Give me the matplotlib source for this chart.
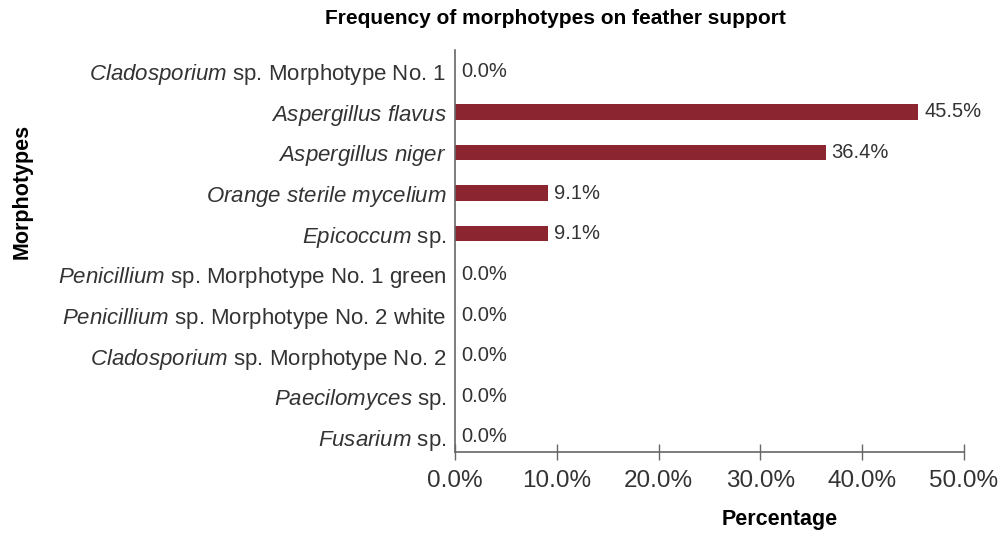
import matplotlib
matplotlib.use("Agg")
import matplotlib.pyplot as plt

plt.rcParams["font.family"] = ["Liberation Sans", "DejaVu Sans"]
plt.rcParams["mathtext.fontset"] = "custom"
plt.rcParams["mathtext.rm"] = "Liberation Sans"
plt.rcParams["mathtext.it"] = "Liberation Sans:italic"

# categories, top to bottom
categories = [
    r"$\mathit{Cladosporium}$ sp. Morphotype No. 1",
    r"$\mathit{Aspergillus\ flavus}$",
    r"$\mathit{Aspergillus\ niger}$",
    r"$\mathit{Orange\ sterile\ mycelium}$",
    r"$\mathit{Epicoccum}$ sp.",
    r"$\mathit{Penicillium}$ sp. Morphotype No. 1 green",
    r"$\mathit{Penicillium}$ sp. Morphotype No. 2 white",
    r"$\mathit{Cladosporium}$ sp. Morphotype No. 2",
    r"$\mathit{Paecilomyces}$ sp.",
    r"$\mathit{Fusarium}$ sp.",
]
values = [0.0, 45.5, 36.4, 9.1, 9.1, 0.0, 0.0, 0.0, 0.0, 0.0]
xticks = [0, 10, 20, 30, 40, 50]

bar_color = "#8b2630"
axis_color = "#666666"
text_color = "#333333"

fig = plt.figure(figsize=(10.08, 5.34), dpi=100)
ax = fig.add_axes([455 / 1008, 82 / 534, 509 / 1008, 402 / 534])

pos = list(range(len(categories)))
ax.barh(pos, values, height=0.38, color=bar_color)
for p, v in zip(pos, values):
    ax.text(v + 0.6, p, "%.1f%%" % v, va="center", ha="left",
            fontsize=14.5, color=text_color)

ax.set_ylim(len(categories) - 1 + 0.37, -0.52)
ax.set_xlim(0, 50)
ax.set_yticks(pos)
ax.set_yticklabels(categories, fontsize=16, color=text_color)
ax.set_xticks(xticks)
ax.set_xticklabels(["%.1f%%" % t for t in xticks], fontsize=17.5, color=text_color)
ax.tick_params(axis="y", length=0, pad=6)
ax.tick_params(axis="x", direction="inout", length=12, width=1, color=axis_color, pad=7)

for s in ["top", "right"]:
    ax.spines[s].set_visible(False)
for s in ["left", "bottom"]:
    ax.spines[s].set_color(axis_color)
    ax.spines[s].set_linewidth(1.2)

fig.text(555 / 1008, 1 - 19 / 534, "Frequency of morphotypes on feather support",
         ha="center", va="center", fontsize=15, fontweight="bold", color="black")
fig.text(780 / 1008, 1 - 520 / 534, "Percentage", ha="center", va="center",
         fontsize=15.5, fontweight="bold", color="black")
fig.text(22 / 1008, 1 - 191 / 534, "Morphotypes", ha="center", va="center",
         rotation=90, fontsize=15.5, fontweight="bold", color="black")

fig.savefig("out.png", dpi=100)
